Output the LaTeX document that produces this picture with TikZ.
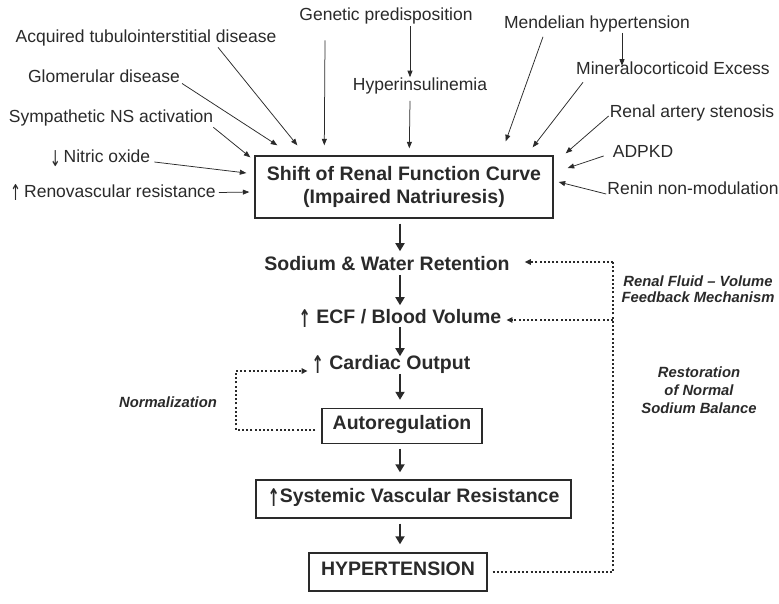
\documentclass[tikz,border=0pt]{standalone}
\usepackage{fontspec}
\usepackage{graphicx}
\setmainfont{Liberation Sans}
\newfontfamily\arwfont{DejaVu Sans}
\usetikzlibrary{arrows.meta,calc}
\definecolor{ink}{HTML}{2A2A2A}
\newcommand\uparw{\raisebox{-0.2em}{\scalebox{0.75}[1.25]{\arwfont ↑}}}
\newcommand\dnarw{\raisebox{-0.2em}{\scalebox{0.75}[1.25]{\arwfont ↓}}}
\newcommand\upbarw{\raisebox{-0.2em}{\scalebox{0.75}[1.25]{\arwfont\bfseries ↑}}}
\begin{document}
\begin{tikzpicture}[x=1pt,y=-1pt,
  lab/.style={font=\fontsize{17.5}{20}\selectfont, inner sep=0pt, text height=0.72em, text depth=0pt, text=ink},
  chain/.style={font=\bfseries\fontsize{19.5}{23}\selectfont, inner sep=0pt, text height=0.72em, text depth=0pt, text=ink},
  cbox/.style={chain, draw=ink, line width=1.4pt},
  sidelab/.style={font=\bfseries\itshape\fontsize{14.8}{18}\selectfont, align=center, inner sep=0pt, text=ink},
  thinarrow/.style={draw=ink, line width=0.75pt, -{Triangle[length=6.5pt,width=5pt]}},
  mainarrow/.style={draw=ink, line width=1.8pt, -{Triangle[length=8pt,width=9pt]}},
  dots/.style={draw=ink, line width=2pt, dash pattern=on 2pt off 2.2pt},
  dotarrow/.style={dots, -{Triangle[length=6pt,width=5.5pt]}}]

\fill[white] (0,0) rectangle (779,603);
\useasboundingbox (0,0) rectangle (779,603);

% upper labels
\node[lab] (gen)   at (386,16.5) {Genetic predisposition};
\node[lab] (hyp)   at (420,87)   {Hyperinsulinemia};
\node[lab] (acq)   at (146,38.5) {Acquired tubulointerstitial disease};
\node[lab] (glom)  at (104,78.5) {Glomerular disease};
\node[lab] (symp)  at (111,118.5){Sympathetic NS activation};
\node[lab] (no)    at (100,159)  {\dnarw\,Nitric oxide};
\node[lab] (reno)  at (113,193.5){\uparw\,Renovascular resistance};
\node[lab] (mend)  at (597,25)   {Mendelian hypertension};
\node[lab] (min)   at (673,70.5) {Mineralocorticoid Excess};
\node[lab] (ras)   at (692,114)  {Renal artery stenosis};
\node[lab] (adpkd) at (643,154)  {ADPKD};
\node[lab] (renin) at (693,191)  {Renin non-modulation};

% central box
\node[draw=ink, line width=1.4pt, font=\bfseries\fontsize{19.5}{22.5}\selectfont,
      align=center, minimum width=298pt, minimum height=62pt, inner sep=0pt, text=ink]
      (renal) at (404,187) {Shift of Renal Function Curve\\(Impaired Natriuresis)};

% chain
\node[chain] (sod) at (387,267) {Sodium \& Water Retention};
\node[chain] (ecf) at (400,320) {\upbarw\ ECF / Blood Volume};
\node[chain] (co)  at (391,366) {\upbarw\ Cardiac Output};
\node[cbox, minimum width=160pt, minimum height=35pt] (auto) at (402,426)   {Autoregulation};
\node[cbox, minimum width=315pt, minimum height=38pt] (svr)  at (413.5,499) {\upbarw Systemic Vascular Resistance};
\node[cbox, minimum width=178pt, minimum height=38pt] (htn)  at (398,572)   {HYPERTENSION};

% side labels
\node[sidelab] (norm) at (168,402) {Normalization};
\node[sidelab, font=\bfseries\itshape\fontsize{14.8}{16.5}\selectfont] (fb) at (698,289) {Renal Fluid -- Volume\\Feedback Mechanism};
\node[sidelab] (rest) at (699,390) {Restoration\\of Normal\\Sodium Balance};

% thin arrows into the box
\draw[thinarrow] ($(acq.south)+(72,5)$)   -- ($(renal.north west)+(43,-10)$);
\draw[thinarrow] ($(glom.east)+(2,5)$)    -- ($(renal.north west)+(23,-10)$);
\draw[thinarrow] ($(symp.south east)+(0,5)$) -- ($(renal.north west)+(-4,2)$);
\draw[thinarrow] ($(no.east)+(4,3)$)      -- ($(renal.west)+(-8,-14)$);
\draw[thinarrow] ($(reno.east)+(3,-1)$)   -- ($(renal.west)+(-5,5)$);
\draw[thinarrow] ($(gen.south)+(-61,20)$) -- ($(renal.north west)+(70,-10)$);
\draw[thinarrow] ($(gen.south)+(24,6)$)   -- ($(hyp.north)+(-10,-6)$);
\draw[thinarrow] ($(hyp.south)+(-10,10)$) -- ($(renal.north west)+(155,-7)$);
\draw[thinarrow] ($(mend.south)+(-54,8)$) -- ($(renal.north east)+(-48,-14)$);
\draw[thinarrow] ($(mend.south)+(25,4)$)  -- ($(min.north)+(-51,-1)$);
\draw[thinarrow] ($(min.south)+(-90,8)$)  -- ($(renal.north east)+(-21,-8)$);
\draw[thinarrow] ($(ras.west)+(-1,2)$)    -- ($(renal.north east)+(12,-2)$);
\draw[thinarrow] ($(adpkd.west)+(-9,2)$)  -- ($(renal.east)+(14,-19)$);
\draw[thinarrow] ($(renin.west)+(-1,3)$)  -- ($(renal.east)+(5,-5)$);

% main chain arrows
\coordinate (cx) at (400,0);
\draw[mainarrow, shorten <=5pt, shorten >=12pt] (renal.south -| cx) -- (sod.north -| cx);
\draw[mainarrow, shorten <=4pt, shorten >=11pt] (sod.south -| cx) -- (ecf.north -| cx);
\draw[mainarrow, shorten <=3pt, shorten >=6pt]  (ecf.south -| cx) -- (co.north -| cx);
\draw[mainarrow, shorten <=4pt, shorten >=8pt]  (co.south -| cx) -- (auto.north -| cx);
\draw[mainarrow, shorten <=4.5pt, shorten >=7pt] (auto.south -| cx) -- (svr.north -| cx);
\draw[mainarrow, shorten <=5pt, shorten >=8pt]  (svr.south -| cx) -- (htn.north -| cx);

% feedback loop (dotted)
\coordinate (fbtop) at (613,262);
\coordinate (normtop) at (236,371);
\draw[dots] ($(htn.east)+(5,0)$) -| (fbtop);
\draw[dotarrow] (fbtop) -- ($(sod.east)+(15,-5)$);
\draw[dotarrow] (fbtop |- ecf) -- ($(ecf.east)+(5,0)$);
\draw[dots] ($(auto.west)+(-6,4)$) -| (normtop);
\draw[dotarrow] (normtop) -- ($(co.west)+(-4,5)$);
\end{tikzpicture}
\end{document}
